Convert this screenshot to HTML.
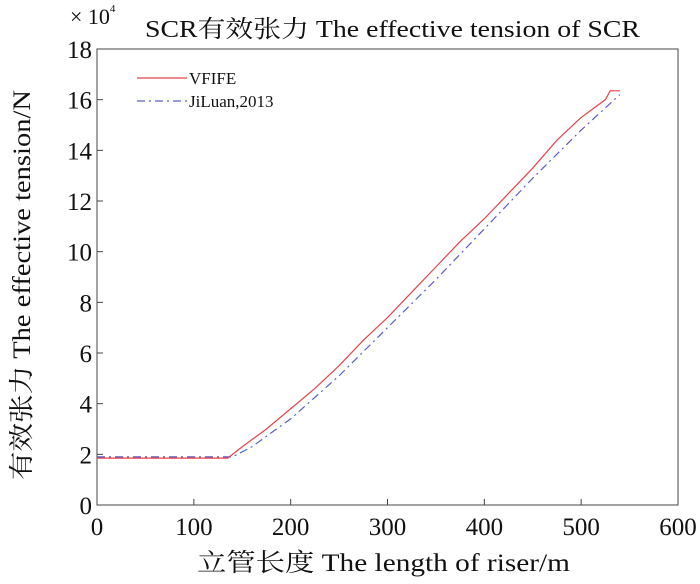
<!DOCTYPE html>
<html><head><meta charset="utf-8"><style>
body{margin:0;background:#fff;}
svg text{font-family:"Liberation Serif","Noto Serif CJK SC",serif;fill:#111;}
</style></head><body>
<svg id="chart" width="700" height="579" xmlns="http://www.w3.org/2000/svg">
<text x="145" y="37" font-size="24" textLength="495" lengthAdjust="spacingAndGlyphs">SCR有效张力 The effective tension of SCR</text>
<text x="70" y="24" font-size="22">× 10<tspan font-size="11" dy="-12">4</tspan></text>
<text x="197" y="571" font-size="25" textLength="373" lengthAdjust="spacingAndGlyphs">立管长度 The length of riser/m</text>
<text transform="translate(30,480) rotate(-90)" font-size="25" textLength="390" lengthAdjust="spacingAndGlyphs">有效张力 The effective tension/N</text>
<g id="axes"></g>
<g id="series"></g>
<g>
<line x1="137" y1="78" x2="187" y2="78" stroke="#e8434a" stroke-width="1.2"/>
<text x="189" y="84" font-size="17">VFIFE</text>
<line x1="137" y1="101" x2="187" y2="101" stroke="#5a5fc8" stroke-width="1.2" stroke-dasharray="8,4,2,4"/>
<text x="189" y="107" font-size="17">JiLuan,2013</text>
</g>
</svg>
<script>
const xTicks=[0,100,200,300,400,500,600];
const yTicks=[0,2,4,6,8,10,12,14,16,18];
const vfifeX=[0,135,150,175,200,225,250,275,300,325,350,375,400,425,450,475,500,525,530,540];
const vfifeY=[1.85,1.85,2.3,3.0,3.8,4.6,5.5,6.5,7.4,8.4,9.4,10.4,11.3,12.3,13.3,14.4,15.3,16.0,16.35,16.35];
const jiluanX=[0,140,160,200,250,300,350,400,450,500,540];
const jiluanY=[1.9,1.9,2.3,3.4,5.1,7.0,8.9,10.9,12.9,14.8,16.2];
const L=97,R=678,T=49,B=505;
const sx=v=>L+(v-0)/600*(R-L);
const sy=v=>B-(v/18)*(B-T);
const NS="http://www.w3.org/2000/svg";
const axes=document.getElementById('axes'),ser=document.getElementById('series');
function mk(tag,attrs,parent){const e=document.createElementNS(NS,tag);for(const k in attrs)e.setAttribute(k,attrs[k]);parent.appendChild(e);return e;}
const frame=mk('rect',{x:L,y:T,width:R-L,height:B-T,fill:'none',stroke:'#444','stroke-width':1},axes);


xTicks.forEach(t=>{
  const l=mk('line',{x1:sx(t),x2:sx(t),y1:B,y2:B-6,stroke:'#444'},axes);
  
  
  const tx=mk('text',{x:sx(t),y:B+30,'font-size':25,'text-anchor':'middle'},axes);
  tx.textContent=t;
  
  
});
yTicks.forEach(t=>{
  const l=mk('line',{x1:L,x2:L+6,y1:sy(t),y2:sy(t),stroke:'#444'},axes);
  
  
  const tx=mk('text',{x:L-5,y:sy(t)+9,'font-size':25,'text-anchor':'end'},axes);
  tx.textContent=t;
  
  
});
function pts(xs,ys){return xs.map((x,i)=>sx(x)+','+sy(ys[i])).join(' ');}
const p2=mk('polyline',{points:pts(jiluanX,jiluanY),fill:'none',stroke:'#5a5fc8','stroke-width':1.2,'stroke-dasharray':'8,4,2,4'},ser);


const p1=mk('polyline',{points:pts(vfifeX,vfifeY),fill:'none',stroke:'#e8434a','stroke-width':1.2},ser);


</script>
</body></html>
